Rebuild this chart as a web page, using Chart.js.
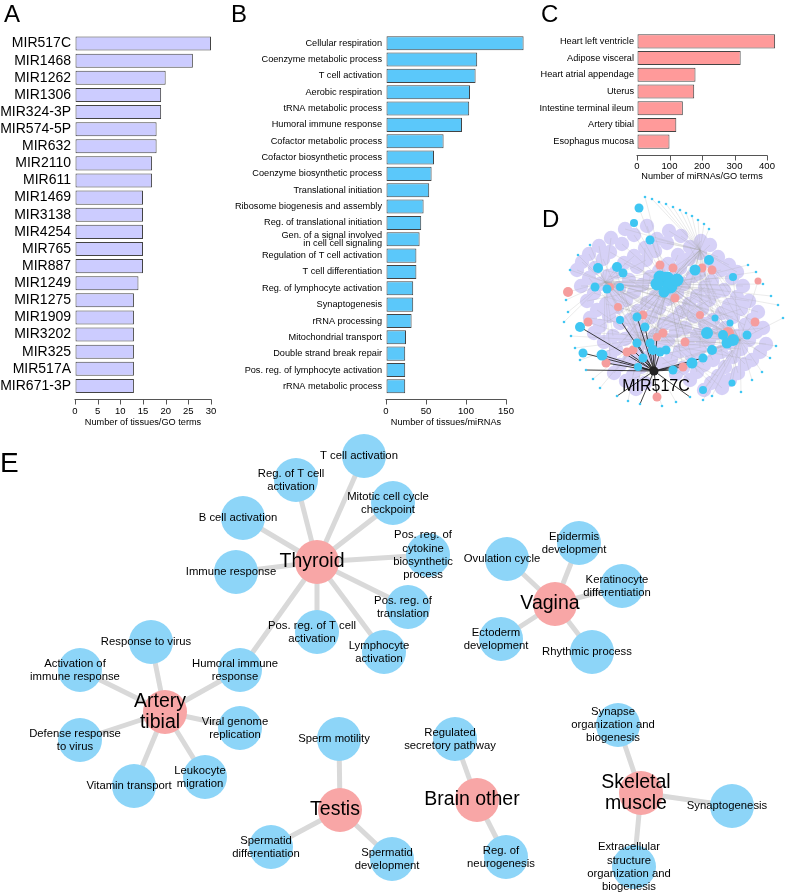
<!DOCTYPE html>
<html>
<head>
<meta charset="utf-8">
<script src="https://cdn.jsdelivr.net/npm/chart.js@4.4.1/dist/chart.umd.min.js"></script>
<style>
  body { margin: 0; background: #fff; width: 794px; height: 894px; position: relative; overflow: hidden; font-family: "Liberation Sans", Arial, sans-serif; }
  canvas { position: absolute; }
  .tag { position: absolute; font-size: 24px; line-height: 1; color: #000; }
</style>
</head>
<body>
<canvas id="chartA" style="left:0;top:0" width="230" height="430"></canvas>
<canvas id="chartB" style="left:230px;top:0" width="330" height="430"></canvas>
<canvas id="chartC" style="left:540px;top:0" width="254" height="190"></canvas>
<canvas id="chartD" style="left:540px;top:190px" width="254" height="220"></canvas>
<canvas id="chartE" style="left:0;top:430px" width="794" height="464"></canvas>
<div class="tag" style="left:4px;top:2px">A</div>
<div class="tag" style="left:231px;top:2px">B</div>
<div class="tag" style="left:541px;top:2px">C</div>
<div class="tag" style="left:542px;top:207px">D</div>
<div class="tag" style="left:0;top:449px;font-size:28px">E</div>
<script>
// ---------- A: miRNAs
const mirNames = ['MIR517C','MIR1468','MIR1262','MIR1306','MIR324-3P','MIR574-5P','MIR632','MIR2110','MIR611',
  'MIR1469','MIR3138','MIR4254','MIR765','MIR887','MIR1249','MIR1275','MIR1909','MIR3202','MIR325','MIR517A','MIR671-3P'];
const mirCounts = [30,26,20,19,19,18,18,17,17,15,15,15,15,15,14,13,13,13,13,13,13];

// ---------- B: GO terms
const goNames = ['Cellular respiration','Coenzyme metabolic process','T cell activation','Aerobic respiration',
  'tRNA metabolic process','Humoral immune response','Cofactor metabolic process','Cofactor biosynthetic process',
  'Coenzyme biosynthetic process','Translational initiation','Ribosome biogenesis and assembly',
  'Reg. of translational initiation',['Gen. of a signal involved','in cell cell signaling'],
  'Regulation of T cell activation','T cell differentiation','Reg. of lymphocyte activation','Synaptogenesis',
  'rRNA processing','Mitochondrial transport','Double strand break repair','Pos. reg. of lymphocyte activation',
  'rRNA metabolic process'];
const goCounts = [172,114,112,105,104,95,72,60,57,54,47,44,42,38,38,34,34,32,25,24,24,24];

// ---------- C: tissues
const tissueNames = ['Heart left ventricle','Adipose visceral','Heart atrial appendage','Uterus',
  'Intestine terminal ileum','Artery tibial','Esophagus mucosa'];
const tissueCounts = [425,319,180,176,141,121,100];

// ---------- D: full network (layout coordinates, hub index)
const dHubs = [[605,282],[668,285],[740,340],[640,340],[700,250]];
const dCenter = [654,371];           // MIR517C, hub 5
const dLavender = [
  [625,229,4],[647,226,1],[669,231,4],
  [611,238,0],[634,235,1],[657,239,4],[681,236,4],[701,241,1],
  [599,246,0],[622,244,1],[645,248,3],[667,243,4],[690,247,2],[710,245,1],
  [589,254,0],[610,252,1],[634,256,0],[655,251,2],[678,255,3],[700,253,1],[718,257,4],
  [582,262,0],[603,259,3],[624,263,1],[646,260,0],[668,264,2],[689,259,3],[711,262,1],[729,265,4],
  [577,270,0],[595,268,1],[616,272,3],[637,267,2],[659,271,0],[680,268,3],[699,273,2],[721,270,1],[737,272,4],
  [589,278,3],[608,276,1],[629,280,2],[650,277,3],[672,279,0],[693,276,2],[712,281,1],[732,278,0],
  [581,286,1],[600,284,2],[619,288,3],[642,285,2],[663,289,4],[684,284,0],[705,287,3],[724,290,1],[743,286,0],
  [594,293,2],[613,296,3],[634,292,1],[655,297,2],[677,293,0],[697,296,3],[716,292,1],[737,297,4],
  [587,301,1],[606,304,2],[626,300,3],[647,303,4],[668,299,2],[689,304,0],[709,300,3],[729,305,1],[749,301,0],
  [597,310,3],[617,307,2],[638,311,1],[659,308,0],[681,312,2],[702,309,4],[722,313,0],[741,309,3],[758,312,1],
  [590,318,2],[609,316,1],[630,320,4],[651,317,2],[673,320,0],[694,316,3],[713,320,4],[733,317,0],[752,320,1],
  [600,326,1],[620,323,4],[642,327,0],[664,324,2],[685,328,4],[705,324,0],[725,328,3],[745,325,1],[763,328,3],
  [594,333,2],[613,336,0],[633,332,2],[655,335,1],[676,331,4],[697,335,1],[717,333,0],[737,336,1],[756,332,4],
  [604,342,0],[625,339,1],[646,343,4],[668,340,0],[688,344,1],[709,340,3],[729,343,3],[749,340,4],[766,344,3],
  [616,349,1],[637,352,0],[659,348,2],[680,351,1],[700,348,4],[721,352,0],[741,349,3],[760,352,1],
  [610,357,0],[629,360,2],[650,356,1],[671,359,4],[692,356,2],[713,360,1],[733,357,0],[752,360,3],
  [620,365,1],[641,367,4],[662,364,2],[683,368,1],[704,365,0],[725,367,4],[745,364,1],
  [614,373,3],[633,375,1],[676,374,2],[697,372,1],[718,376,3],[738,373,4],
  [626,381,2],[645,383,1],[690,380,3],[711,383,0],[730,380,2],
  [636,389,1],[704,390,2],[722,388,0]
];
const dTiny = [
  [645,197,1],[652,199,4],[659,202,4],[666,204,4],[673,207,4],[680,210,4],[686,213,4],[692,216,4],[698,220,4],[704,224,4],[709,229,4],
  [590,245,0],[578,255,0],[570,270,0],[566,300,0],[568,312,0],[564,322,0],[571,336,3],[575,348,3],[580,360,3],
  [586,370,5],[593,379,3],[600,388,3],[617,396,5],[628,401,3],[640,404,5],[662,406,3],[676,402,3],[690,397,5],
  [703,400,2],[712,396,2],[748,265,1],[756,272,1],[763,284,1],[771,296,1],[778,305,1],[783,318,2],[776,346,2],
  [770,358,2],[762,372,2],[752,380,2],[741,392,2]
];
const dBlue = [
  [639,208,4,1],[634,223,3.5,1],[650,240,4,4],[598,268,4.5,0],[617,267,4.5,0],[623,273,4,0],
  [660,277,6,1],[667,279,7,3],[657,284,6,1],[670,286,7,2],[677,280,6,4],[664,292,5,0],
  [695,270,5,4],[709,260,4.5,1],[733,277,3.5,2],[595,287,4,0],[607,289,4,3],[620,287,3.5,1],
  [637,317,4,5],[645,327,4,5],[620,320,3.5,5],[580,327,4.5,5],[583,353,4,5],[602,355,5,5],
  [707,333,5.5,1],[723,335,4.5,2],[727,343,5,2],[733,340,5.5,2],[747,335,4,2],[712,350,4.5,2],
  [692,363,5,5],[703,358,4,5],[653,350,4.5,5],[660,352,4,5],[666,350,4,3],[637,343,4,5],
  [650,343,4,3],[643,358,4,5],[638,367,3.5,5],[703,390,3.5,2],[732,383,3,2],[673,370,4,5],
  [715,318,3,1],[730,323,3,2]
];
const dPink = [
  [568,292,4.5,0],[660,265,4,1],[673,268,4,4],[702,268,4,4],[712,270,4,4],[758,281,3,2],
  [755,322,4,2],[728,333,5.5,2],[675,298,4,1],[643,315,4,3],[618,307,3.5,0],[610,287,3.5,0],
  [588,322,4,3],[663,333,4,3],[657,337,3.5,5],[685,342,4,2],[633,350,4,5],[627,352,4,5],
  [606,363,4,5],[657,397,4,5],[683,367,4,5],[700,315,3.5,1]
];

// ---------- E: tissue / GO term network
const eTissues = ['Thyroid','Artery\ntibial','Vagina','Testis','Brain other','Skeletal\nmuscle'];
const eTissueX = [317,165,555,340,477,641];
const eTissueY = [562,712,604,810,800,793];
const eTerms = ['T cell activation','Reg. of T cell\nactivation','Mitotic cell cycle\ncheckpoint','B cell activation',
  'Immune response','Pos. reg. of\ncytokine\nbiosynthetic\nprocess','Pos. reg. of\ntranslation','Lymphocyte\nactivation',
  'Pos. reg. of T cell\nactivation','Humoral immune\nresponse','Response to virus','Activation of\nimmune response',
  'Defense response\nto virus','Vitamin transport','Leukocyte\nmigration','Viral genome\nreplication',
  'Ovulation cycle','Epidermis\ndevelopment','Keratinocyte\ndifferentiation','Ectoderm\ndevelopment','Rhythmic process',
  'Sperm motility','Spermatid\ndifferentiation','Spermatid\ndevelopment','Regulated\nsecretory pathway',
  'Reg. of\nneurogenesis','Synapse\norganization and\nbiogenesis','Synaptogenesis',
  'Extracellular\nstructure\norganization and\nbiogenesis'];
const eTermX = [364,296,393,243,236,428,408,384,317,240,151,80,80,134,205,240,507,579,622,501,592,339,271,392,455,506,618,732,634];
const eTermY = [456,480,503,518,572,555,607,652,632,670,642,670,740,786,777,728,559,543,586,639,652,739,847,859,739,857,725,806,867];
const eLinks = [[0,0],[0,1],[0,2],[0,3],[0,4],[0,5],[0,6],[0,7],[0,8],[0,9],
  [1,9],[1,10],[1,11],[1,12],[1,13],[1,14],[1,15],
  [2,16],[2,17],[2,18],[2,19],[2,20],
  [3,21],[3,22],[3,23],[4,24],[4,25],[5,26],[5,27],[5,28]];

// axis line drawn a few pixels below the bars, only over the tick range
const rangeAxis = {
  id: 'rangeAxis',
  afterDraw(chart, args, opts) {
    const xs = chart.scales.x, ctx = chart.ctx;
    const y = Math.round(chart.chartArea.bottom + opts.gap) + 0.5;
    ctx.save();
    ctx.strokeStyle = '#555';
    ctx.lineWidth = 1;
    ctx.beginPath();
    ctx.moveTo(xs.getPixelForValue(xs.min) - 0.5, y);
    ctx.lineTo(xs.getPixelForValue(xs.max) + 0.5, y);
    xs.ticks.forEach(t => {
      const px = Math.round(xs.getPixelForValue(t.value)) + 0.5;
      ctx.moveTo(px, y);
      ctx.lineTo(px, y + 5);
    });
    ctx.stroke();
    ctx.restore();
  }
};

function barChart(id, labels, values, color, o) {
  return new Chart(document.getElementById(id), {
    type: 'bar',
    data: {
      labels: labels,
      datasets: [{
        data: values,
        backgroundColor: color,
        borderColor: '#444',
        borderWidth: 1,
        borderSkipped: false,
        barPercentage: o.bar,
        categoryPercentage: 1,
        clip: false
      }]
    },
    options: {
      indexAxis: 'y',
      responsive: false,
      animation: false,
      events: [],
      layout: { padding: { top: o.top, right: o.right, left: 0, bottom: 0 } },
      plugins: { legend: { display: false }, tooltip: { enabled: false }, rangeAxis: { gap: 4.5 } },
      scales: {
        x: {
          min: 0, max: o.max,
          ticks: { stepSize: o.step, color: '#000', font: { size: 9.5 }, padding: 1, maxRotation: 0 },
          grid: { drawOnChartArea: false, drawTicks: true, tickLength: 10, color: 'rgba(0,0,0,0)' },
          border: { display: false },
          title: { display: true, text: o.title, color: '#000', font: { size: 9.2 }, padding: { top: 0, bottom: o.tb } },
          afterFit: s => { s.height = o.xh; }
        },
        y: {
          ticks: { color: '#000', font: { size: o.ls, lineHeight: 0.92 }, padding: o.lp, autoSkip: false },
          grid: { display: false, drawTicks: false },
          border: { display: false },
          afterFit: s => { s.width = o.yw; }
        }
      }
    },
    plugins: [rangeAxis]
  });
}

barChart('chartA', mirNames, mirCounts, '#ccccff',
  { bar: 0.82, top: 35, right: 19, max: 30, step: 5, title: 'Number of tissues/GO terms', tb: 2, xh: 35.5, ls: 14, lp: 4, yw: 75 });
barChart('chartB', goNames, goCounts, '#5bc8fa',
  { bar: 0.86, top: 35, right: 54, max: 150, step: 50, title: 'Number of tissues/miRNAs', tb: 2, xh: 35.5, ls: 9.2, lp: 4, yw: 156 });
barChart('chartC', tissueNames, tissueCounts, '#ff9a9a',
  { bar: 0.84, top: 33, right: 27, max: 400, step: 100, title: 'Number of miRNAs/GO terms', tb: 8, xh: 40, ls: 9.2, lp: 3, yw: 97 });

// ---------- network helpers
function pts(list) { return list.map(p => ({ x: p[0], y: p[1] })); }
function edge(a, b, color, width, order) {
  return { data: [{ x: a[0], y: a[1] }, { x: b[0], y: b[1] }], showLine: true, borderColor: color,
    borderWidth: width, pointRadius: 0, order: order, clip: false };
}
function nodes(list, radius, color, order) {
  return { data: pts(list), pointRadius: radius, pointBackgroundColor: color, pointBorderWidth: 0,
    borderWidth: 0, showLine: false, order: order, clip: false };
}
function netOptions(x0, x1, y0, y1, labelOpts) {
  return {
    responsive: false, animation: false, events: [],
    layout: { padding: 0, autoPadding: false },
    plugins: { legend: { display: false }, tooltip: { enabled: false }, netLabels: labelOpts },
    scales: {
      x: { type: 'linear', min: x0, max: x1, display: false },
      y: { type: 'linear', min: y0, max: y1, reverse: true, display: false }
    }
  };
}
const netLabels = {
  id: 'netLabels',
  afterDatasetsDraw(chart, args, opts) {
    const ctx = chart.ctx, xs = chart.scales.x, ys = chart.scales.y;
    ctx.save();
    ctx.fillStyle = '#000';
    ctx.textAlign = 'center';
    ctx.textBaseline = 'middle';
    opts.groups.forEach(g => {
      ctx.font = g.size + 'px "Liberation Sans", Arial, sans-serif';
      g.text.forEach((t, i) => {
        const lines = t.split('\n');
        const cx = xs.getPixelForValue(g.x[i]) + g.dx;
        const cy = ys.getPixelForValue(g.y[i]) + g.dy;
        lines.forEach((ln, k) => {
          ctx.fillText(ln, cx, cy + (k - (lines.length - 1) / 2) * g.lh);
        });
      });
    });
    ctx.restore();
  }
};

// ---------- D chart
const dSets = [];
dSets.push(nodes(dLavender, 7.2, '#d6d1f7', 20));
dSets.push(nodes(dHubs, 7.2, '#d6d1f7', 20));
[dLavender, dTiny, dBlue, dPink].forEach(list => {
  list.forEach(p => {
    const h = p[p.length - 1];
    if (h === 5) dSets.push(edge(p, dCenter, 'rgba(30,30,30,0.85)', 1, 8));
    else dSets.push(edge(p, dHubs[h], 'rgba(165,165,165,0.45)', 0.5, 10));
  });
});
dSets.push(nodes(dTiny, 1.3, '#3fc6f2', 5));
dSets.push(nodes(dPink, dPink.map(p => p[2] + 0.5), '#f59d9d', 4));
dSets.push(nodes(dBlue, dBlue.map(p => p[2] + 0.5), '#3fc6f2', 3));
dSets.push(nodes([dCenter], 4.5, '#222', 1));
new Chart(document.getElementById('chartD'), {
  type: 'scatter',
  data: { datasets: dSets },
  options: netOptions(540, 794, 190, 410, {
    groups: [{ text: ['MIR517C'], x: [dCenter[0]], y: [dCenter[1]], dx: 2, dy: 16, size: 16, lh: 18 }]
  }),
  plugins: [netLabels]
});

// ---------- E chart
const eSets = [];
eSets.push(nodes(eTissueX.map((x, i) => [x, eTissueY[i]]), 22, '#f8a6a6', 2));
eSets.push(nodes(eTermX.map((x, i) => [x, eTermY[i]]), 22, '#8dd5f8', 3));
eLinks.forEach(l => {
  eSets.push(edge([eTissueX[l[0]], eTissueY[l[0]]], [eTermX[l[1]], eTermY[l[1]]], '#d9d9d9', 5, 10));
});
new Chart(document.getElementById('chartE'), {
  type: 'scatter',
  data: { datasets: eSets },
  options: netOptions(0, 794, 430, 894, {
    groups: [
      { text: eTerms, x: eTermX, y: eTermY, dx: -5, dy: 0, size: 11.3, lh: 13.2 },
      { text: eTissues, x: eTissueX, y: eTissueY, dx: -5, dy: 0, size: 19.5, lh: 21.5 }
    ]
  }),
  plugins: [netLabels]
});
</script>
</body>
</html>
